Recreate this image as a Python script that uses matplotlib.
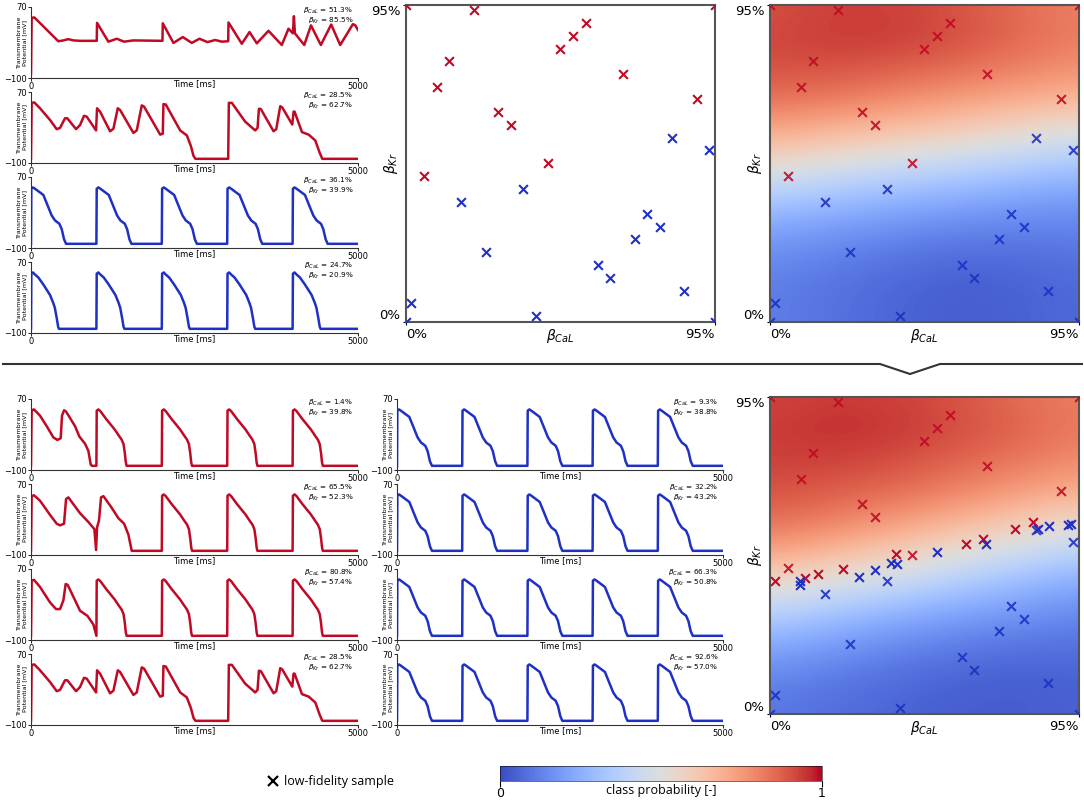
import numpy as np
import matplotlib as mpl
import matplotlib.pyplot as plt
from matplotlib.lines import Line2D

W, H = 1084, 800
RED = "#c00a25"
BLUE = "#1f30c4"
plt.rcParams["mathtext.fontset"] = "dejavusans"

# ---- low-fidelity samples, first design (beta_CaL %, beta_Kr %) ----
red_cal = [21.0, 13.2, 9.4, 28.4, 32.3, 5.5, 43.8, 47.4, 51.3, 55.2, 66.7, 89.6, 0, 95]
red_kr = [93.4, 78.1, 70.4, 62.8, 59.0, 43.8, 47.6, 81.9, 85.7, 89.6, 74.2, 66.7, 95, 95]
blue_cal = [81.8, 93.2, 36.1, 17.0, 74.1, 78.1, 70.3, 24.6, 58.9, 62.8, 85.6, 1.6, 39.9, 0, 95]
blue_kr = [55.2, 51.4, 39.9, 36.1, 32.3, 28.4, 24.8, 20.9, 17.1, 13.3, 9.4, 5.6, 1.8, 0, 0]

# ---- samples added along the class boundary ----
red2_cal = [1.4, 10.8, 14.8, 22.4, 38.6, 60.3, 65.5, 75.2, 80.8]
red2_kr = [39.8, 40.8, 42.0, 43.5, 47.9, 51.0, 52.3, 55.3, 57.4]
blue2_cal = [9.2, 9.3, 27.3, 32.2, 37.1, 39.1, 51.2, 66.3, 82.5, 85.7, 91.6, 92.6]
blue2_kr = [40.0, 38.8, 41.2, 43.2, 45.2, 44.9, 48.4, 50.8, 55.5, 56.4, 56.7, 57.0]

# ---- class probability (rows: beta_Kr, cols: beta_CaL) ----
grid_cal = [0, 19, 38, 57, 76, 95]
grid_kr = [0, 9.5, 19, 28.5, 38, 47.5, 57, 66.5, 76, 85.5, 95]
prob_before = [
    [0.12, 0.09, 0.06, 0.04, 0.05, 0.07],
    [0.12, 0.09, 0.06, 0.04, 0.05, 0.07],
    [0.15, 0.12, 0.09, 0.07, 0.07, 0.09],
    [0.22, 0.19, 0.16, 0.14, 0.13, 0.13],
    [0.36, 0.32, 0.28, 0.25, 0.22, 0.20],
    [0.54, 0.49, 0.45, 0.41, 0.37, 0.33],
    [0.71, 0.67, 0.63, 0.59, 0.54, 0.49],
    [0.84, 0.82, 0.78, 0.74, 0.70, 0.66],
    [0.90, 0.90, 0.88, 0.85, 0.81, 0.77],
    [0.92, 0.94, 0.94, 0.91, 0.86, 0.81],
    [0.90, 0.93, 0.93, 0.90, 0.85, 0.81],
]
prob_after = [
    [0.10, 0.08, 0.06, 0.04, 0.04, 0.05],
    [0.13, 0.10, 0.07, 0.05, 0.04, 0.05],
    [0.21, 0.17, 0.13, 0.10, 0.08, 0.08],
    [0.35, 0.29, 0.23, 0.19, 0.16, 0.13],
    [0.52, 0.46, 0.40, 0.33, 0.27, 0.21],
    [0.71, 0.65, 0.58, 0.50, 0.42, 0.36],
    [0.84, 0.80, 0.74, 0.67, 0.60, 0.53],
    [0.90, 0.88, 0.85, 0.80, 0.74, 0.69],
    [0.93, 0.93, 0.91, 0.87, 0.83, 0.78],
    [0.94, 0.96, 0.95, 0.91, 0.87, 0.82],
    [0.92, 0.94, 0.93, 0.90, 0.85, 0.81],
]

# ---- action potential shapes (time after stimulus [ms], potential [mV]) ----
ap_blue_t = [0, 5, 30, 60, 189, 316, 367, 434, 470, 505, 536]
ap_blue_v = [-90, 42, 45, 42, 27, -22, -34, -42, -55, -79, -90]
ap_blue_short_t = [0, 5, 30, 60, 112, 189, 291, 340, 365, 393, 415, 428]
ap_blue_short_v = [-90, 42, 45, 40, 33, 16, -9, -28, -40, -64, -85, -90]
ap_red_t = [0, 5, 30, 60, 150, 280, 340, 385, 415, 435, 450, 462]
ap_red_v = [-90, 42, 45, 41, 22, -3, -17, -27, -38, -60, -82, -90]
onsets = [0, 1000, 2000, 3000, 4000]

# irregular traces
trA_t = [0, 10, 51, 418, 495, 571, 648, 750, 1005, 1010, 1183, 1311, 1423, 1566, 2010,
         2015, 2178, 2321, 2459, 2576, 2699, 2816, 2918, 3015, 3020, 3223, 3341, 3453,
         3631, 3835, 3937, 4004, 4020, 4035, 4178, 4281, 4432, 4590, 4728, 4922, 4959, 5000]
trA_v = [-90, 44, 45, -12, -10, -7, -10, -11, -11, 32, -13, -6, -13, -10, -11,
         31, -16, -2, -16, -6, -14, -9, -13, -12, 33, -18, 10, -17,
         13, -21, 18, 7, 48, 7, -21, 26, -21, 28, -21, 29, 26, 15]
trB_t = [0, 10, 51, 138, 291, 393, 444, 520, 556, 689, 750, 811, 852, 995, 1010, 1056,
         1209, 1260, 1327, 1362, 1566, 1617, 1694, 1729, 1975, 2015, 2025, 2061, 2281,
         2383, 2444, 2485, 2515, 3015, 3025, 3071, 3275, 3428, 3464, 3485, 3515, 3709,
         3750, 3811, 3842, 3995, 4015, 4030, 4143, 4245, 4347, 4413, 4454, 5000]
trB_v = [-90, 44, 45, 31, 3, -19, -16, 7, 7, -19, -9, 13, 11, -22, 31, 23,
         -24, -18, 31, 27, -28, -22, 38, 35, -32, -30, 41, 40, -22,
         -34, -59, -83, -90, -90, 44, 44, -1, -22, -16, 30, 29, -24,
         -19, 36, 33, -8, 23, 23, -26, -32, -46, -75, -90, -90]
headC_t = [0, 10, 46, 138, 240, 342, 403, 454, 474, 505, 536, 673, 740, 826, 877, 913, 933]
headC_v = [-90, 43, 45, 30, 5, -22, -28, -24, 30, 43, 40, 5, -20, -37, -54, -87, -90]
headD_t = [0, 10, 46, 138, 291, 393, 444, 505, 536, 571, 750, 877, 969, 995, 1010, 1040,
           1071, 1107, 1234, 1337, 1423, 1489, 1540]
headD_v = [-90, 41, 43, 30, -4, -25, -29, -25, 34, 38, 0, -21, -38, -88, -34, -17,
           38, 41, 13, -12, -25, -51, -90]
headE_t = [0, 10, 46, 138, 291, 383, 444, 495, 530, 561, 750, 862, 954, 1000]
headE_v = [-90, 42, 44, 27, -10, -26, -26, -5, 34, 32, -30, -42, -63, -90]


def build(head_t, head_v, starts, tpl_t, tpl_v):
    t, v = list(head_t), list(head_v)
    for t0 in starts:
        t += [t0 + d for d in tpl_t]
        v += list(tpl_v)
    t.append(5000)
    v.append(-90)
    return t, v


fig = plt.figure(figsize=(W / 100, H / 100), dpi=100)


def box(l, t, r, b):
    return fig.add_axes([l / W, 1 - b / H, (r - l) / W, (b - t) / H])


def trace_panel(l, t, tt, vv, color, cal, kr, width=327):
    ax = box(l, t, l + width, t + 71)
    ax.plot(tt, vv, color=color, lw=1.8, solid_joinstyle="round")
    ax.set_xlim(0, 5000)
    ax.set_ylim(-100, 70)
    ax.set_xticks([0, 5000])
    ax.set_yticks([-100, 70])
    ax.tick_params(labelsize=6, length=2, width=0.6, pad=1)
    for s in ["top", "right"]:
        ax.spines[s].set_visible(False)
    for s in ["left", "bottom"]:
        ax.spines[s].set_linewidth(0.8)
        ax.spines[s].set_color("#333333")
    ax.set_xlabel("Time [ms]", fontsize=6)
    ax.xaxis.set_label_coords(0.5, -0.02)
    ax.set_ylabel("Transmembrane\nPotential [mV]", fontsize=4.6, linespacing=1.0)
    ax.yaxis.set_label_coords(-0.012, 0.5)
    ax.text(0.985, 1.01, "$\\beta_{CaL}$ = %s%%\n$\\beta_{Kr}$ = %s%%" % (cal, kr),
            transform=ax.transAxes, ha="right", va="top", fontsize=5.2, linespacing=0.95)
    return ax


def param_axes(l, t, r, b):
    ax = box(l, t, r, b)
    ax.set_xlim(0, 95)
    ax.set_ylim(0, 95)
    ax.set_xticks([0, 95], ["0%", "95%"])
    ax.set_yticks([0, 95], ["0%", "95%"])
    ax.tick_params(labelsize=9.5, length=2, pad=2)
    xl = ax.get_xticklabels()
    xl[0].set_ha("left")
    xl[1].set_ha("right")
    yl = ax.get_yticklabels()
    yl[0].set_va("bottom")
    yl[1].set_va("top")
    for sp in ax.spines.values():
        sp.set_color("#555555")
        sp.set_linewidth(1.5)
    ax.set_xlabel(r"$\beta_{CaL}$", fontsize=10)
    ax.xaxis.set_label_coords(0.5, -0.015)
    ax.set_ylabel(r"$\beta_{Kr}$", fontsize=10)
    ax.yaxis.set_label_coords(-0.02, 0.5)
    return ax


def prob_map(ax, prob):
    ax.imshow(prob, origin="lower", cmap="coolwarm", vmin=0, vmax=1,
              interpolation="bicubic", aspect="auto",
              extent=[grid_cal[0] - 9.5, grid_cal[-1] + 9.5,
                      grid_kr[0] - 4.75, grid_kr[-1] + 4.75])
    ax.set_xlim(0, 95)
    ax.set_ylim(0, 95)


def samples(ax, alpha=1.0):
    ax.scatter(red_cal, red_kr, marker="x", s=40, c=RED, linewidths=1.5, alpha=alpha, zorder=3)
    ax.scatter(blue_cal, blue_kr, marker="x", s=40, c=BLUE, linewidths=1.5, alpha=alpha, zorder=3)


# ---- top row: traces ----
tops = [7, 92, 177, 262]
trace_panel(31, tops[0], trA_t, trA_v, RED, "51.3", "85.5")
trace_panel(31, tops[1], trB_t, trB_v, RED, "28.5", "62.7")
trace_panel(31, tops[2], *build([], [], onsets, ap_blue_t, ap_blue_v), BLUE, "36.1", "39.9")
trace_panel(31, tops[3], *build([], [], onsets, ap_blue_short_t, ap_blue_short_v), BLUE, "24.7", "20.9")

# ---- top row: samples and first classifier ----
ax = param_axes(406, 5, 715, 322)
samples(ax)

ax = param_axes(770, 5, 1079, 322)
prob_map(ax, prob_before)
samples(ax, alpha=0.9)

# ---- divider with arrow notch ----
xs = np.array([3, 880, 910, 940, 1082])
ys = np.array([364, 364, 374, 364, 364])
fig.add_artist(Line2D(xs / W, 1 - ys / H, transform=fig.transFigure, color="#333333", lw=1.5))

# ---- bottom rows: traces of new samples ----
btops = [399, 484, 569, 654]
trace_panel(31, btops[0], *build(headC_t, headC_v, onsets[1:], ap_red_t, ap_red_v), RED, "1.4", "39.8")
trace_panel(31, btops[1], *build(headD_t, headD_v, onsets[2:], ap_red_t, ap_red_v), RED, "65.5", "52.3")
trace_panel(31, btops[2], *build(headE_t, headE_v, onsets[1:], ap_red_t, ap_red_v), RED, "80.8", "57.4")
trace_panel(31, btops[3], trB_t, trB_v, RED, "28.5", "62.7")

blue_tr = build([], [], onsets, ap_blue_t, ap_blue_v)
trace_panel(397, btops[0], *blue_tr, BLUE, "9.3", "38.8", width=326)
trace_panel(397, btops[1], *blue_tr, BLUE, "32.2", "43.2", width=326)
trace_panel(397, btops[2], *blue_tr, BLUE, "66.3", "50.8", width=326)
trace_panel(397, btops[3], *blue_tr, BLUE, "92.6", "57.0", width=326)

# ---- bottom right: refined classifier ----
ax = param_axes(770, 397, 1079, 714)
prob_map(ax, prob_after)
samples(ax, alpha=0.9)
ax.scatter(red2_cal, red2_kr, marker="x", s=40, c=RED, linewidths=1.5, zorder=3)
ax.scatter(blue2_cal, blue2_kr, marker="x", s=40, c=BLUE, linewidths=1.5, zorder=3)

# ---- legend and colour bar ----
fig.legend(handles=[Line2D([], [], marker="x", ls="", color="black", markersize=7, mew=1.6)],
           labels=["low-fidelity sample"], loc="center left",
           bbox_to_anchor=(255 / W, 1 - 782 / H), frameon=False, handlelength=1.0,
           handletextpad=0.4, prop={"family": "Open Sans", "size": 9})

cax = box(500, 766, 822, 781)
sm = mpl.cm.ScalarMappable(norm=mpl.colors.Normalize(0, 1), cmap="coolwarm")
cb = fig.colorbar(sm, cax=cax, orientation="horizontal", ticks=[0, 1])
cb.outline.set_linewidth(0.4)
cax.tick_params(length=4, width=0.8, labelsize=9, pad=0.5)
cb.set_label("class probability [-]", fontsize=9, family="Open Sans")
cax.xaxis.set_label_coords(0.5, -0.22)

fig.savefig("out.png", dpi=100)
